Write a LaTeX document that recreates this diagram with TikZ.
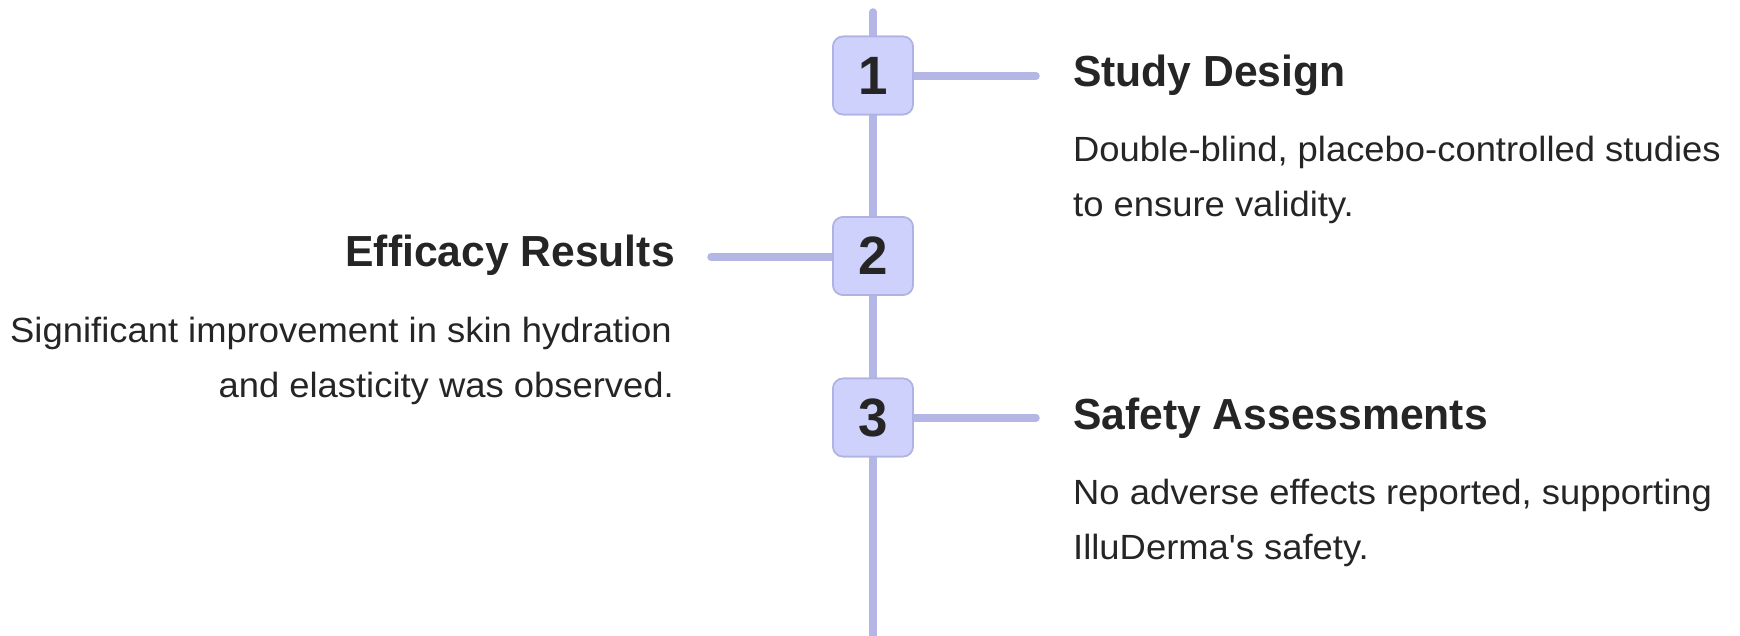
\documentclass[tikz,border=0pt]{standalone}
\usepackage{fontspec}
\newfontfamily\bodyfont{Liberation Sans}[FakeStretch=1.04]
\newfontfamily\titlefont{Liberation Sans}[FakeStretch=0.98]
\definecolor{linec}{HTML}{B4B6E6}
\definecolor{boxfill}{HTML}{CFD1FD}
\definecolor{boxline}{HTML}{B0B2E4}
\definecolor{ink}{HTML}{252525}
\tikzset{
  spine/.style={draw=linec, line width=7.5pt, line cap=round},
  numbox/.style={draw=boxline, line width=1.6pt, fill=boxfill, rounded corners=10pt,
    minimum width=80pt, minimum height=78pt, inner sep=0pt, text=ink,
    font=\titlefont\bfseries\fontsize{54}{60}\selectfont},
  ttl/.style={inner sep=0pt, text=ink, font=\titlefont\bfseries\fontsize{43.5}{50}\selectfont},
  bodytxt/.style={inner sep=0pt, text=ink, font=\bodyfont\fontsize{35}{42}\selectfont}
}
\begin{document}
\begin{tikzpicture}[x=1pt,y=-1pt]
\useasboundingbox (0,0) rectangle (1740,636);
% spine
\coordinate (top) at (873,12);
\coordinate (bot) at (873,660);
\draw[spine] (top) -- (bot);
% connector ends
\coordinate (c1) at (1036,76);
\coordinate (c2) at (711,257);
\coordinate (c3) at (1036,418);
\node[numbox] (b1) at (873,75.5) {};
\node[numbox] (b2) at (873,256) {};
\node[numbox] (b3) at (873,417.5) {};
\draw[spine] (b1.east |- c1) -- (c1);
\draw[spine] (b2.west |- c2) -- (c2);
\draw[spine] (b3.east |- c3) -- (c3);
\node[numbox] (n1) at (873,75.5) {1};
\node[numbox] (n2) at (873,256) {2};
\node[numbox] (n3) at (873,417.5) {3};
% texts
\node[ttl, anchor=base west] (t1) at (1073,87) {Study Design};
\node[bodytxt, anchor=base west] (d1a) at (1073,162) {Double-blind, placebo-controlled studies};
\node[bodytxt, anchor=base west] (d1b) at (1073,217) {to ensure validity.};
\node[ttl, anchor=base east] (t2) at (675,267) {Efficacy Results};
\node[bodytxt, anchor=base east] (d2a) at (672,342) {Significant improvement in skin hydration};
\node[bodytxt, anchor=base east] (d2b) at (674,397) {and elasticity was observed.};
\node[ttl, anchor=base west] (t3) at (1073,429) {Safety Assessments};
\node[bodytxt, anchor=base west] (d3a) at (1073,504) {No adverse effects reported, supporting};
\node[bodytxt, anchor=base west] (d3b) at (1073,559) {IlluDerma's safety.};
\end{tikzpicture}
\end{document}
